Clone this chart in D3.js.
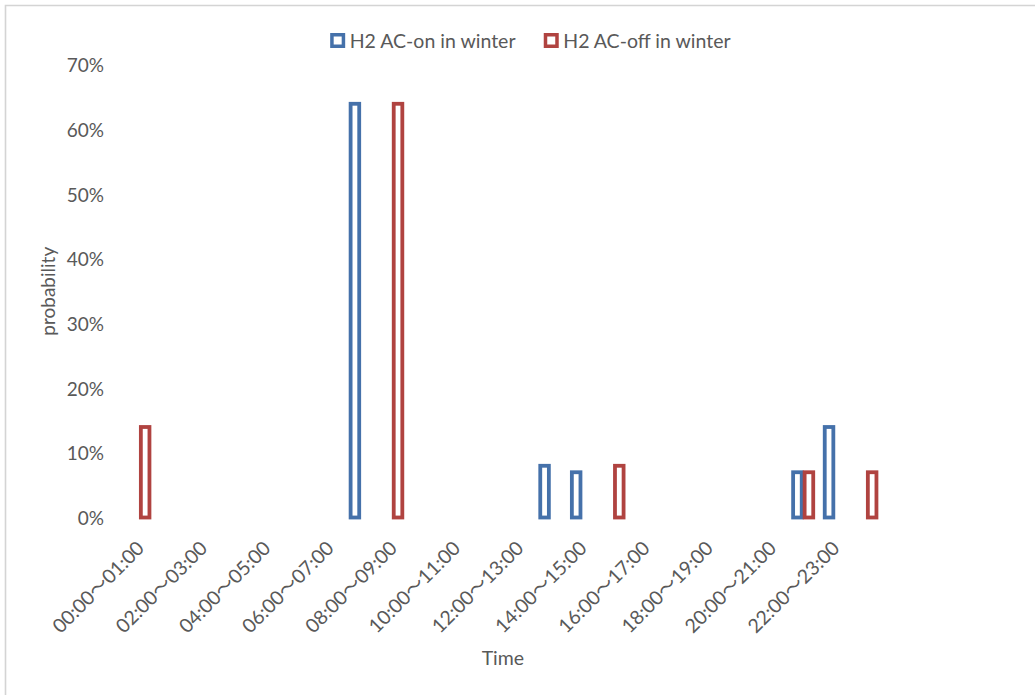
<!DOCTYPE html>
<html>
<head>
<meta charset="utf-8">
<script src="https://cdn.jsdelivr.net/npm/d3@7"></script>
<style>
  html, body { margin: 0; padding: 0; background: #ffffff; }
  svg text { font-family: Lato, "Noto Sans CJK SC", sans-serif; fill: #595959; }
</style>
</head>
<body>
<svg id="chart" width="1035" height="695"></svg>
<script>
// Hourly time slots (one category per hour)
const categories = [
  "00:00～01:00", "01:00～02:00", "02:00～03:00", "03:00～04:00",
  "04:00～05:00", "05:00～06:00", "06:00～07:00", "07:00～08:00",
  "08:00～09:00", "09:00～10:00", "10:00～11:00", "11:00～12:00",
  "12:00～13:00", "13:00～14:00", "14:00～15:00", "15:00～16:00",
  "16:00～17:00", "17:00～18:00", "18:00～19:00", "19:00～20:00",
  "20:00～21:00", "21:00～22:00", "22:00～23:00", "23:00～24:00"
];

// Series names
const seriesNames = ["H2 AC-on in winter", "H2 AC-off in winter"];

// Probability (%) per time slot; null = no observation
const acOnValues = [null, null, null, null, null, null, null, 64,
                    null, null, null, null, null, 8, 7, null,
                    null, null, null, null, null, 7, 14, null];
const acOffValues = [14, null, null, null, null, null, null, null,
                     64, null, null, null, null, null, null, 8,
                     null, null, null, null, null, 7, null, 7];

// Axis ticks
const yTickValues = [0, 10, 20, 30, 40, 50, 60, 70];
const xTickLabels = categories.filter((d, i) => i % 2 === 0);

const seriesColors = ["#4571AA", "#B04340"];
const seriesValues = [acOnValues, acOffValues];

const svg = d3.select("#chart");
const W = 1035, H = 695;
const plot = { left: 123.6, right: 882.2, top: 65, bottom: 517.5 };

// Chart frame
svg.append("path")
  .attr("d", `M5.5,${H} L5.5,5.5 L${W},5.5`)
  .attr("fill", "none")
  .attr("stroke", "#d4d4d4")
  .attr("stroke-width", 1.6);

// Scales
const x0 = d3.scaleBand()
  .domain(categories)
  .range([plot.left, plot.right])
  .paddingInner(0)
  .paddingOuter(0);

const x1 = d3.scaleBand()
  .domain(seriesNames)
  .range([0, x0.bandwidth()])
  .paddingInner(0)
  .paddingOuter(0.374);

const y = d3.scaleLinear()
  .domain([0, 70])
  .range([plot.bottom, plot.top]);

// Y axis (labels only)
const yAxis = svg.append("g")
  .attr("transform", `translate(${plot.left},0)`)
  .call(d3.axisLeft(y)
    .tickValues(yTickValues)
    .tickSize(0)
    .tickPadding(19.5)
    .tickFormat(d => d + "%"));
yAxis.select(".domain").remove();
yAxis.selectAll("text")
  .style("font-size", "19px")
  .attr("dy", "0.36em");

// X axis (every other slot labelled, rotated)
const xAxis = svg.append("g")
  .attr("transform", `translate(0,${plot.bottom})`)
  .call(d3.axisBottom(x0)
    .tickValues(xTickLabels)
    .tickSize(0));
xAxis.select(".domain").remove();
xAxis.selectAll("text")
  .style("font-size", "19.5px")
  .attr("text-anchor", "end")
  .attr("y", 0)
  .attr("dy", "0.36em")
  .attr("transform", "translate(1,27) rotate(-45)");

// Columns: outlined, white fill
const barInset = 1.45;
seriesNames.forEach((name, si) => {
  const rows = categories
    .map((c, i) => ({ c, v: seriesValues[si][i] }))
    .filter(d => d.v !== null);
  svg.append("g")
    .selectAll("rect")
    .data(rows)
    .join("rect")
      .attr("x", d => x0(d.c) + x1(name) + barInset)
      .attr("width", x1.bandwidth() - 2 * barInset)
      .attr("y", d => y(d.v))
      .attr("height", d => y(0) - y(d.v))
      .attr("fill", "#ffffff")
      .attr("stroke", seriesColors[si])
      .attr("stroke-width", 3.8);
});

// Axis titles
svg.append("text")
  .attr("transform", `translate(55,${(plot.top + plot.bottom) / 2}) rotate(-90)`)
  .attr("text-anchor", "middle")
  .style("font-size", "19px")
  .text("probability");

svg.append("text")
  .attr("x", (plot.left + plot.right) / 2)
  .attr("y", 665)
  .attr("text-anchor", "middle")
  .style("font-size", "19.5px")
  .text("Time");

// Legend (centered above the plot)
const legend = svg.append("g");
const items = legend.selectAll("g")
  .data(seriesNames)
  .join("g");
items.append("rect")
  .attr("x", 1.75).attr("y", 1.75)
  .attr("width", 11.5).attr("height", 11.5)
  .attr("fill", "#ffffff")
  .attr("stroke", (d, i) => seriesColors[i])
  .attr("stroke-width", 3.5);
items.append("text")
  .attr("x", 19.5)
  .attr("y", 14.5)
  .style("font-size", "19.5px")
  .text(d => d);

let cursor = 0;
const itemGap = 30;
items.each(function() {
  const w = this.getBBox().width;
  d3.select(this).attr("transform", `translate(${cursor},33)`);
  cursor += w + itemGap;
});
const legendWidth = cursor - itemGap;
legend.attr("transform", `translate(${529.5 - legendWidth / 2},0)`);
</script>
</body>
</html>
